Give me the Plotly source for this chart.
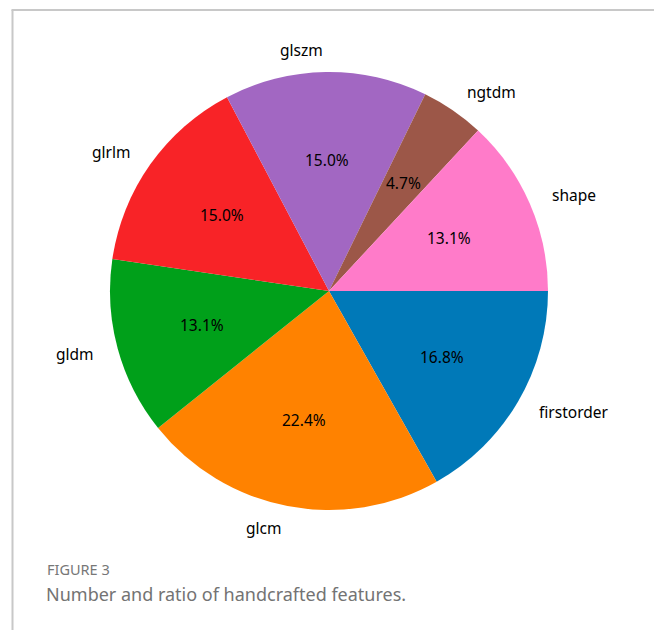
import math
import plotly.graph_objects as go

# ---- data ----
categories = ["firstorder", "glcm", "gldm", "glrlm", "glszm", "ngtdm", "shape"]
counts = [18, 24, 14, 16, 16, 5, 14]
colors = ["#0079B8", "#FF8200", "#00A01A", "#F82327", "#A267C2", "#9C5748", "#FF7BC9"]
caption_label = "FIGURE 3"
caption_text = "Number and ratio of handcrafted features."

W, H = 654, 630
CX, CY, R = 329, 291, 219  # pie centre / radius in pixels

fig = go.Figure()
fig.add_trace(go.Pie(
    labels=categories,
    values=counts,
    sort=False,
    direction="clockwise",
    rotation=90,
    marker=dict(colors=colors, line=dict(width=0)),
    textinfo="none",
    hoverinfo="label+value+percent",
    showlegend=False,
    domain=dict(x=[(CX - R) / W, (CX + R) / W], y=[1 - (CY + R) / H, 1 - (CY - R) / H]),
))

total = sum(counts)
annotations = []
cum = 0
for name, v in zip(categories, counts):
    mid = (cum + v / 2) / total * 2 * math.pi
    cum += v
    c, s = math.cos(mid), math.sin(mid)
    lx, ly = CX + 1.1 * R * c, CY + 1.1 * R * s
    annotations.append(dict(
        x=lx / W, y=1 - ly / H, xref="paper", yref="paper",
        text=name, showarrow=False,
        xanchor="left" if c > 0 else "right", yanchor="middle",
        font=dict(family="Noto Sans", size=15.5, color="#000000"),
    ))
    px, py = CX + 0.6 * R * c, CY + 0.6 * R * s
    annotations.append(dict(
        x=px / W, y=1 - py / H, xref="paper", yref="paper",
        text=f"{100 * v / total:.1f}%", showarrow=False,
        xanchor="center", yanchor="middle",
        font=dict(family="Noto Sans", size=15.5, color="#000000"),
    ))

annotations.append(dict(
    x=45 / W, y=1 - 569 / H, xref="paper", yref="paper",
    text=caption_label, showarrow=False, xanchor="left", yanchor="middle",
    font=dict(family="Noto Sans", size=14.5, color="#777777"),
))
annotations.append(dict(
    x=44 / W, y=1 - 594 / H, xref="paper", yref="paper",
    text=caption_text, showarrow=False, xanchor="left", yanchor="middle",
    font=dict(family="Noto Sans", size=18, color="#737373"),
))

shapes = [
    dict(type="line", xref="paper", yref="paper",
         x0=12.5 / W, x1=12.5 / W, y0=0, y1=1 - 10 / H,
         line=dict(color="#c8c8c8", width=2)),
    dict(type="line", xref="paper", yref="paper",
         x0=11.5 / W, x1=1, y0=1 - 10 / H, y1=1 - 10 / H,
         line=dict(color="#c8c8c8", width=2)),
]

fig.update_layout(
    width=W, height=H,
    margin=dict(l=0, r=0, t=0, b=0),
    paper_bgcolor="white", plot_bgcolor="white",
    annotations=annotations, shapes=shapes,
)

fig.write_html("out.html")
